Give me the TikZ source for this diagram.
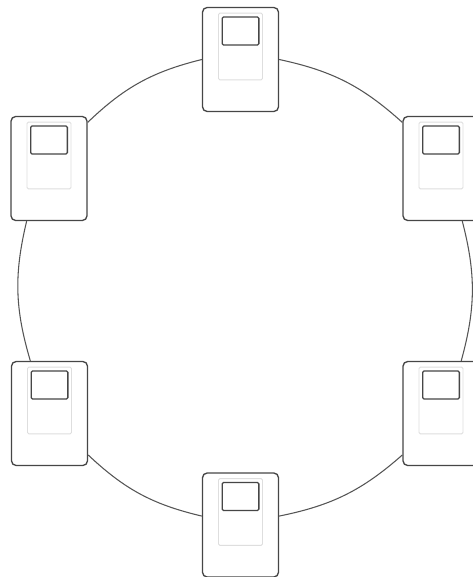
\documentclass[tikz,border=0pt]{standalone}
\usepackage{xcolor}
\usetikzlibrary{positioning}
\definecolor{borde}{RGB}{70,70,70}
\definecolor{anillo}{RGB}{85,85,85}
\definecolor{claro}{RGB}{222,222,222}
\tikzset{
  unitbox/.style={draw=borde,line width=1pt,rounded corners=3.5pt,fill=white,minimum width=57pt,minimum height=78pt,inner sep=0pt},
  panelbox/.style={draw=claro,line width=0.7pt,rounded corners=1pt,fill=white,minimum width=33pt,minimum height=50pt,inner sep=0pt},
  screenbox/.style={draw=borde,line width=1pt,rounded corners=1pt,fill=white,minimum width=27.5pt,minimum height=21pt,inner sep=0pt},
  ringline/.style={draw=anillo,line width=0.8pt}
}
\begin{document}
\begin{tikzpicture}[x=0.75pt,y=-0.75pt]
\useasboundingbox (0,0) rectangle (473,577);
\clip (0,0) rectangle (473,577);
% estaciones
\foreach \name/\x/\y in {top/240.5/59.5,rup/441/168.5,rlo/441/413.5,bot/240.5/525,llo/49.5/413.5,lup/49/168.5}{
  \node[unitbox] (\name) at (\x,\y) {};
  \node[panelbox] (\name panel) at (\x,\y-13) {};
  \node[screenbox] (\name screen) at (\x,\y-28.5) {};
}
% anillo
\draw[ringline] (top.east) to[bend left=15] (rup.130);
\draw[ringline] (rup.292) to[bend left=15] (rlo.69);
\draw[ringline] (rlo.227) to[bend left=15] (bot.13);
\draw[ringline] (bot.167) to[bend left=15] (llo.313);
\draw[ringline] (llo.110) to[bend left=15] (lup.247);
\draw[ringline] (lup.50) to[bend left=15] (top.west);
\end{tikzpicture}
\end{document}
